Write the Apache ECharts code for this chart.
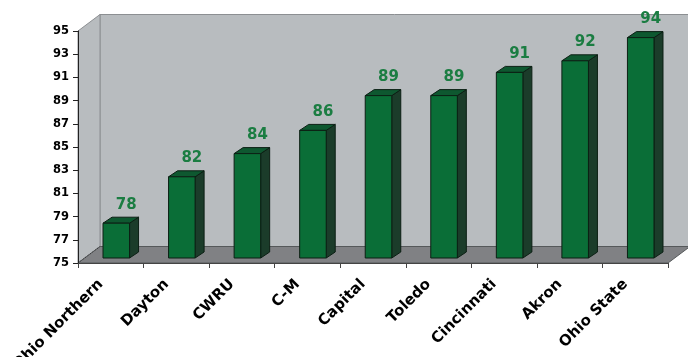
<!DOCTYPE html>
<html>
<head>
<meta charset="utf-8">
<script src="https://cdn.jsdelivr.net/npm/echarts@6/dist/echarts.min.js"></script>
<style>
html,body{margin:0;padding:0;background:#fff;}
#c{width:688px;height:357px;}
</style>
</head>
<body>
<div id="c"></div>
<script>
const categories = ['Ohio Northern','Dayton','CWRU','C-M','Capital','Toledo','Cincinnati','Akron','Ohio State'];
const values = [78, 82, 84, 86, 89, 89, 91, 92, 94];
const yMin = 75, yMax = 95, yStep = 2;

const DX = 22, DY = -16.5;          // full depth of the 3D box
const FONT = 'DejaVu Sans';

const chart = echarts.init(document.getElementById('c'), null, {renderer: 'canvas'});

function renderWalls(params, api) {
  const cs = params.coordSys;
  const x0 = cs.x, y0 = cs.y, w = cs.width, h = cs.height;
  const wallFill = '#b8bcbf';
  return {
    type: 'group',
    children: [
      { type: 'polygon', shape: { points: [[x0+DX, y0+DY],[x0+w+DX+30, y0+DY],[x0+w+DX+30, y0+h+DY],[x0+DX, y0+h+DY]] },
        style: { fill: wallFill, stroke: '#8c8f92', lineWidth: 1 } },
      { type: 'polygon', shape: { points: [[x0, y0],[x0+DX, y0+DY],[x0+DX, y0+h+DY],[x0, y0+h]] },
        style: { fill: wallFill, stroke: '#8c8f92', lineWidth: 1 } },
      { type: 'polygon', shape: { points: [[x0, y0+h],[x0+DX, y0+h+DY],[x0+w+DX, y0+h+DY],[x0+w, y0+h]] },
        style: { fill: '#808184', stroke: '#55585a', lineWidth: 1 } },
      { type: 'line', shape: { x1: x0, y1: y0+h, x2: x0+DX, y2: y0+h+DY },
        style: { stroke: '#333', lineWidth: 1, lineDash: [1, 2] } }
    ]
  };
}

function renderBar(params, api) {
  const idx = api.value(0), v = api.value(1);
  const top = api.coord([idx, v]);
  const base = api.coord([idx, yMin]);
  const bw = api.size([1, 0])[0];
  const fw = bw * 0.405;
  const shiftX = DX * 0.25, shiftY = -5;
  const bdx = 9, bdy = -6;
  const fx = top[0] - fw / 2 + shiftX;
  const yT = top[1] + shiftY, yB = base[1] + shiftY;
  const stroke = '#0c1f14';
  return {
    type: 'group',
    children: [
      { type: 'polygon', shape: { points: [[fx+fw, yT],[fx+fw+bdx, yT+bdy],[fx+fw+bdx, yB+bdy],[fx+fw, yB]] },
        style: { fill: '#1b3c2a', stroke: stroke, lineWidth: 1 } },
      { type: 'polygon', shape: { points: [[fx, yT],[fx+bdx, yT+bdy],[fx+fw+bdx, yT+bdy],[fx+fw, yT]] },
        style: { fill: '#0e5830', stroke: stroke, lineWidth: 1 } },
      { type: 'rect', shape: { x: fx, y: yT, width: fw, height: yB - yT },
        style: { fill: '#0a6e37', stroke: stroke, lineWidth: 1 } },
      { type: 'text', x: fx + fw / 2 + 10, y: yT - 18.5,
        style: { text: String(v), fill: '#1b7d42', font: 'bold 15px "' + FONT + '"', align: 'center', verticalAlign: 'middle' } }
    ]
  };
}

chart.setOption({
  animation: false,
  backgroundColor: '#ffffff',
  grid: { left: 78, right: 20, top: 31, bottom: 94, containLabel: false, outerBoundsMode: 'none' },
  xAxis: {
    type: 'category',
    data: categories,
    boundaryGap: true,
    z: 3,
    axisLine: { show: true, lineStyle: { color: '#444', width: 1 } },
    axisTick: { show: true, length: 5, alignWithLabel: false, lineStyle: { color: '#444' } },
    axisLabel: {
      rotate: 45, interval: 0, margin: 9, padding: [0, 14, 0, 0],
      color: '#000', fontFamily: FONT, fontWeight: 'bold', fontSize: 15
    },
    splitLine: { show: false }
  },
  yAxis: {
    type: 'value',
    min: yMin, max: yMax, interval: yStep,
    z: 3,
    axisLine: { show: true, lineStyle: { color: '#222', width: 1 } },
    axisTick: { show: true, length: 5, lineStyle: { color: '#222' } },
    axisLabel: { margin: 9, color: '#000', fontFamily: FONT, fontWeight: 'bold', fontSize: 11.5 },
    splitLine: { show: false }
  },
  series: [
    { type: 'custom', z: 1, silent: true, renderItem: renderWalls, data: [[0, yMin]], clip: false },
    { type: 'custom', z: 5, silent: true, renderItem: renderBar,
      data: values.map((v, i) => [i, v]), clip: false }
  ]
});
</script>
</body>
</html>
